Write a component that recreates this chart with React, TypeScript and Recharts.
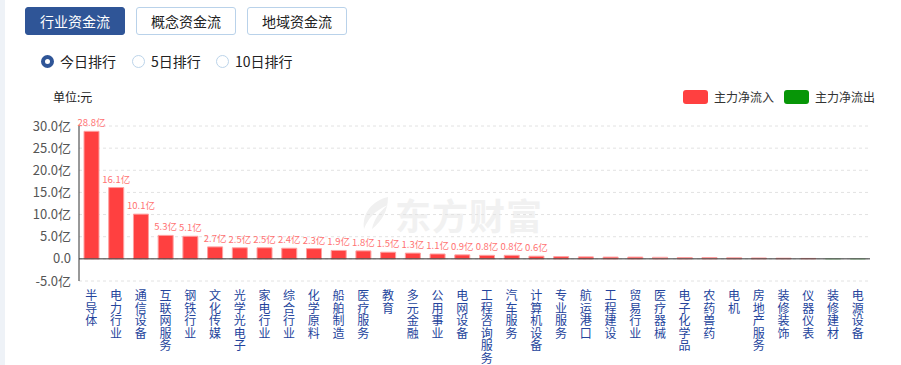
import React from 'react';
import { BarChart, Bar, XAxis, YAxis, CartesianGrid, ReferenceLine, LabelList, Cell } from 'recharts';

const categories = [
  '半导体', '电力行业', '通信设备', '互联网服务', '钢铁行业', '文化传媒', '光学光电子', '家电行业',
  '综合行业', '化学原料', '船舶制造', '医疗服务', '教育', '多元金融', '公用事业', '电网设备',
  '工程咨询服务', '汽车服务', '计算机设备', '专业服务', '航运港口', '工程建设', '贸易行业', '医疗器械',
  '电子化学品', '农药兽药', '电机', '房地产服务', '装修装饰', '仪器仪表', '装修建材', '电源设备',
];

// 单位：亿元
const netFlow = [
  28.8, 16.1, 10.1, 5.3, 5.1, 2.7, 2.5, 2.5,
  2.4, 2.3, 1.9, 1.8, 1.5, 1.3, 1.1, 0.9,
  0.8, 0.8, 0.6, 0.5, 0.45, 0.4, 0.4, 0.35,
  0.3, 0.3, 0.25, 0.2, 0.15, 0.1, -0.05, -0.05,
];

const yTicks = [-5, 0, 5, 10, 15, 20, 25, 30];

const data = categories.map((name, i) => ({ name, value: netFlow[i] }));

const FONT = '"Noto Sans CJK SC", "Noto Sans", sans-serif';
const RED = '#ff4040';
const GREEN = '#079607';

// one char per line, like the original vertical labels
function VerticalTick(props: any) {
  const { x, y, payload } = props;
  const chars = String(payload.value).split('');
  return (
    <g>
      {chars.map((c, i) => (
        <text key={i} x={x} y={y + 11 + i * 12.6} textAnchor="middle" fontSize={12} fill="#24449c" fontFamily={FONT}>
          {c}
        </text>
      ))}
    </g>
  );
}

function LegendBox() {
  const item = (color: string, label: string) => (
    <div style={{ display: 'flex', alignItems: 'center', marginLeft: 10 }}>
      <span style={{ width: 25, height: 14, background: color, borderRadius: 3, display: 'inline-block' }} />
      <span style={{ marginLeft: 6, fontSize: 12, color: '#333' }}>{label}</span>
    </div>
  );
  return (
    <div style={{ position: 'absolute', right: 26, top: 88, display: 'flex', fontFamily: FONT }}>
      {item(RED, '主力净流入')}
      {item(GREEN, '主力净流出')}
    </div>
  );
}

function Tab({ left, label, active }: { left: number; label: string; active?: boolean }) {
  return (
    <div style={{
      position: 'absolute', left, top: 7, width: 100, height: 28, boxSizing: 'border-box',
      borderRadius: 3, border: active ? '1px solid #2f5597' : '1px solid #b9d2ea',
      background: active ? '#2f5597' : '#fff', color: active ? '#fff' : '#222',
      fontSize: 14, lineHeight: '26px', textAlign: 'center', fontFamily: FONT,
    }}>{label}</div>
  );
}

function Radio({ left, label, checked }: { left: number; label: string; checked?: boolean }) {
  return (
    <div style={{ position: 'absolute', left, top: 51, display: 'flex', alignItems: 'center', fontFamily: FONT, fontSize: 14, color: '#222' }}>
      <span style={{
        width: 13, height: 13, borderRadius: '50%', boxSizing: 'border-box', display: 'inline-block',
        border: checked ? '4px solid #2f5597' : '1px solid #bcd4ea', background: '#fff',
      }} />
      <span style={{ marginLeft: 6 }}>{label}</span>
    </div>
  );
}

export default function App() {
  return (
    <div style={{ position: 'fixed', left: 0, top: 0, width: 901, height: 365, background: '#fff', overflow: 'hidden', fontFamily: FONT }}>
      <div style={{ position: 'absolute', left: 0, top: 0, width: 5, height: 365, background: '#eef2f7' }} />
      <Tab left={25} label="行业资金流" active />
      <Tab left={136} label="概念资金流" />
      <Tab left={247} label="地域资金流" />
      <Radio left={41} label="今日排行" checked />
      <Radio left={132} label="5日排行" />
      <Radio left={216} label="10日排行" />
      <div style={{ position: 'absolute', left: 53, top: 88, fontSize: 12, color: '#222' }}>单位:元</div>
      {/* watermark */}
      <svg style={{ position: 'absolute', left: 358, top: 195 }} width={34} height={36}>
        <path d="M30 2 C14 6 4 18 6 34 C10 24 16 16 30 10 C22 16 16 24 14 34 C24 26 30 16 30 2 Z" fill="#f0f0f0" />
      </svg>
      <div style={{ position: 'absolute', left: 395, top: 188, fontSize: 36, fontWeight: 700, color: '#f1f1f1', letterSpacing: 1 }}>东方财富</div>
      <LegendBox />
      <div style={{ position: 'absolute', left: 0, top: 0 }}>
        <BarChart width={901} height={365} data={data} margin={{ top: 126, right: 31, bottom: 0, left: 0 }} barSize={15}>
          <CartesianGrid vertical={false} strokeDasharray="3 3" stroke="#e2e2e2" />
          <XAxis dataKey="name" interval={0} axisLine={false} tickLine={false} height={84} tick={<VerticalTick />} />
          <YAxis
            width={79}
            domain={[-5, 30]}
            ticks={yTicks}
            interval={0}
            tickLine={false}
            axisLine={{ stroke: '#333' }}
            tick={{ fill: '#555', fontSize: 13, fontFamily: FONT }}
            tickFormatter={(v: number) => (v === 0 ? '0.0' : v.toFixed(1) + '亿')}
          />
          <ReferenceLine y={0} stroke="#333" strokeWidth={1} />
          <Bar dataKey="value" isAnimationActive={false}>
            {data.map((d, i) => (
              <Cell
                key={i}
                fill={d.value < 0 ? '#c9e8c9' : d.value < 0.36 ? '#ffb8b8' : RED}
                stroke={d.value < 0 ? '#b7e0b7' : '#ffa0a0'}
                strokeWidth={1}
              />
            ))}
            <LabelList
              dataKey="value"
              position="top"
              offset={5}
              fill="#ff7272"
              fontSize={9.5}
              fontFamily={FONT}
              formatter={(v: any) => (Number(v) >= 0.55 ? Number(v).toFixed(1) + '亿' : '')}
            />
          </Bar>
        </BarChart>
      </div>
    </div>
  );
}
